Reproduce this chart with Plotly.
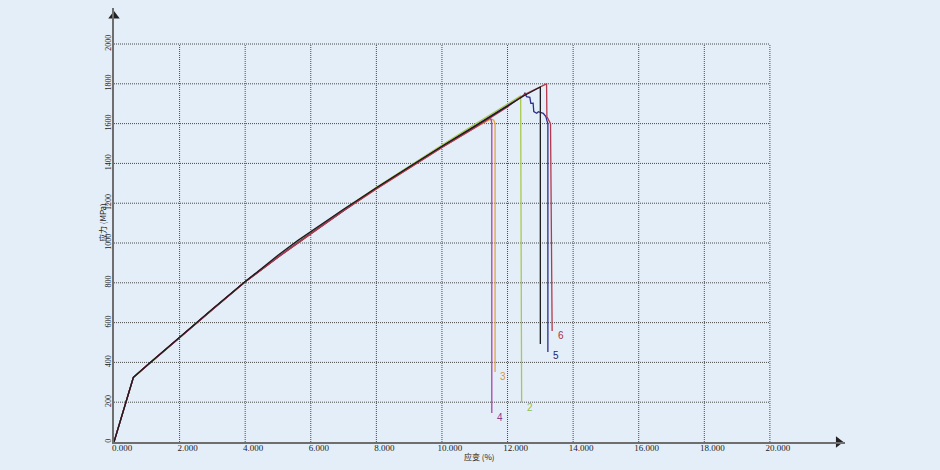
import plotly.graph_objects as go

# ---------------- data ----------------
X_TICKS = [0, 2, 4, 6, 8, 10, 12, 14, 16, 18, 20]
X_TICK_TEXT = ["0.000", "2.000", "4.000", "6.000", "8.000", "10.000",
               "12.000", "14.000", "16.000", "18.000", "20.000"]
Y_TICKS = [0, 200, 400, 600, 800, 1000, 1200, 1400, 1600, 1800, 2000]
Y_TICK_TEXT = ["0", "200", "400", "600", "800", "1000", "1200", "1400", "1600", "1800", "2000"]

S1_STRAIN = [0, 0.59, 1.0, 2.0, 3.0, 4.0, 5.0, 5.6, 6.0, 7.0, 8.0, 9.0, 10.0, 11.0, 12.0, 12.5, 13.0, 13.0]
S1_STRESS = [0, 325, 384, 527, 668, 806, 938, 1012, 1058, 1170, 1278, 1384, 1486, 1586, 1686, 1740, 1784, 492]

S2_STRAIN = [0, 0.59, 1.0, 2.0, 3.0, 4.0, 5.0, 5.6, 6.0, 7.0, 8.0, 9.0, 10.0, 11.0, 12.0, 12.4, 12.43]
S2_STRESS = [0, 323, 382, 525, 666, 805, 932, 1004, 1050, 1168, 1280, 1388, 1492, 1596, 1700, 1740, 200]

S3_STRAIN = [0, 0.59, 1.0, 2.0, 3.0, 4.0, 5.0, 6.0, 7.0, 8.0, 9.0, 10.0, 11.0, 11.5, 11.58, 11.62, 11.62]
S3_STRESS = [0, 324, 383, 525, 665, 804, 928, 1046, 1162, 1272, 1378, 1480, 1578, 1623, 1617, 1600, 352]

S4_STRAIN = [0, 0.59, 1.0, 2.0, 3.0, 4.0, 5.0, 6.0, 7.0, 8.0, 9.0, 10.0, 11.0, 11.46, 11.5, 11.52, 11.52]
S4_STRESS = [0, 325, 384, 526, 666, 805, 929, 1047, 1163, 1274, 1380, 1482, 1580, 1627, 1620, 1600, 146]

S5_STRAIN = [0, 0.59, 1.0, 2.0, 3.0, 4.0, 5.0, 6.0, 7.0, 8.0, 9.0, 10.0, 11.0, 12.0, 12.5, 12.53, 12.58,
             12.68, 12.71, 12.78, 12.80, 12.89, 12.94, 13.09, 13.17, 13.21, 13.23, 13.23]
S5_STRESS = [0, 324, 383, 526, 666, 805, 930, 1048, 1164, 1276, 1382, 1486, 1588, 1690, 1742, 1755, 1735,
             1732, 1702, 1703, 1660, 1652, 1660, 1652, 1635, 1610, 1600, 452]

S6_STRAIN = [0, 0.59, 1.0, 2.0, 3.0, 4.0, 5.0, 6.0, 7.0, 8.0, 9.0, 10.0, 11.0, 12.0, 12.5, 13.19,
             13.2, 13.31, 13.33, 13.36]
S6_STRESS = [0, 325, 384, 526, 666, 805, 929, 1046, 1162, 1272, 1378, 1480, 1580, 1684, 1745, 1800,
             1635, 1600, 1200, 558]

SERIES = [
    ("2", S2_STRAIN, S2_STRESS, "#a9c94c"),
    ("3", S3_STRAIN, S3_STRESS, "#e3a545"),
    ("4", S4_STRAIN, S4_STRESS, "#a844a8"),
    ("5", S5_STRAIN, S5_STRESS, "#2c2c8c"),
    ("6", S6_STRAIN, S6_STRESS, "#b23a4c"),
    ("1", S1_STRAIN, S1_STRESS, "#1c1c1c"),
]

LABELS = ["2", "3", "4", "5", "6"]
LABEL_X = [12.68, 11.86, 11.77, 13.48, 13.63]
LABEL_Y = [171, 327, 121, 437, 533]
LABEL_COLORS = ["#93bd4e", "#d8993a", "#8a3a8a", "#1e1e66", "#a2304a"]

X_TITLE = "应变 (%)"
Y_TITLE = "应力 (MPa)"

# ---------------- figure ----------------
BG = "#e4eef8"
AXIS_COLOR = "#6e6e6e"
GRID_COLOR = "#4a4a4a"
X_END = 22.29
Y_END = 2181

fig = go.Figure()

for name, xs, ys, col in SERIES:
    fig.add_trace(go.Scatter(x=xs, y=ys, mode="lines", name=name,
                             line=dict(color=col, width=1.3),
                             showlegend=False, hoverinfo="skip"))

# grid box (from tick arrays)
for t in X_TICKS[1:]:
    fig.add_shape(type="line", x0=t, x1=t, y0=0, y1=Y_TICKS[-1],
                  line=dict(color=GRID_COLOR, width=1, dash="1px,1px"), layer="below")
for t in Y_TICKS[1:]:
    fig.add_shape(type="line", x0=0, x1=X_TICKS[-1], y0=t, y1=t,
                  line=dict(color=GRID_COLOR, width=1, dash="1px,1px"), layer="below")

# axis arrowheads
fig.add_trace(go.Scatter(x=[X_END - 0.2], y=[0], mode="markers", cliponaxis=False,
                         marker=dict(symbol="triangle-right", size=10, color="#222222"),
                         showlegend=False, hoverinfo="skip"))
fig.add_trace(go.Scatter(x=[0], y=[Y_END - 40], mode="markers", cliponaxis=False,
                         marker=dict(symbol="triangle-up", size=10, color="#222222"),
                         showlegend=False, hoverinfo="skip"))

for lab, lx, ly, lc in zip(LABELS, LABEL_X, LABEL_Y, LABEL_COLORS):
    fig.add_annotation(x=lx, y=ly, text=lab, showarrow=False,
                       font=dict(family="Liberation Sans", size=10, color=lc))

fig.add_annotation(x=11.16, y=0, xref="x", yref="paper", yshift=-14, yanchor="middle",
                   text=X_TITLE, showarrow=False,
                   font=dict(family="Noto Sans CJK SC", size=8, color="#222222"))
fig.add_annotation(x=0, y=1100, xref="x", yref="y", xshift=-12, text=Y_TITLE, textangle=-90,
                   showarrow=False, font=dict(family="Noto Sans CJK SC", size=8, color="#222222"))

fig.update_xaxes(range=[0, X_END], tickvals=X_TICKS, ticktext=X_TICK_TEXT,
                 showgrid=False, zeroline=False, showline=True, linecolor=AXIS_COLOR,
                 linewidth=2, ticks="", ticklabelshift=8, ticklabelstandoff=-4,
                 tickfont=dict(family="Liberation Serif", size=9, color="#222222"))
fig.update_yaxes(range=[0, Y_END], tickvals=Y_TICKS, ticktext=Y_TICK_TEXT,
                 showgrid=False, zeroline=False, showline=True, linecolor=AXIS_COLOR,
                 linewidth=2, ticks="", tickangle=-90, ticklabelstandoff=-2,
                 tickfont=dict(family="Liberation Serif", size=8, color="#222222"))

fig.update_layout(width=940, height=470, paper_bgcolor=BG, plot_bgcolor=BG,
                  margin=dict(l=114, r=95, t=8, b=28), hovermode=False)

fig.write_html("out.html", config={"displayModeBar": False},
               post_script="document.body.style.margin='0';document.body.style.background='#e4eef8';")
